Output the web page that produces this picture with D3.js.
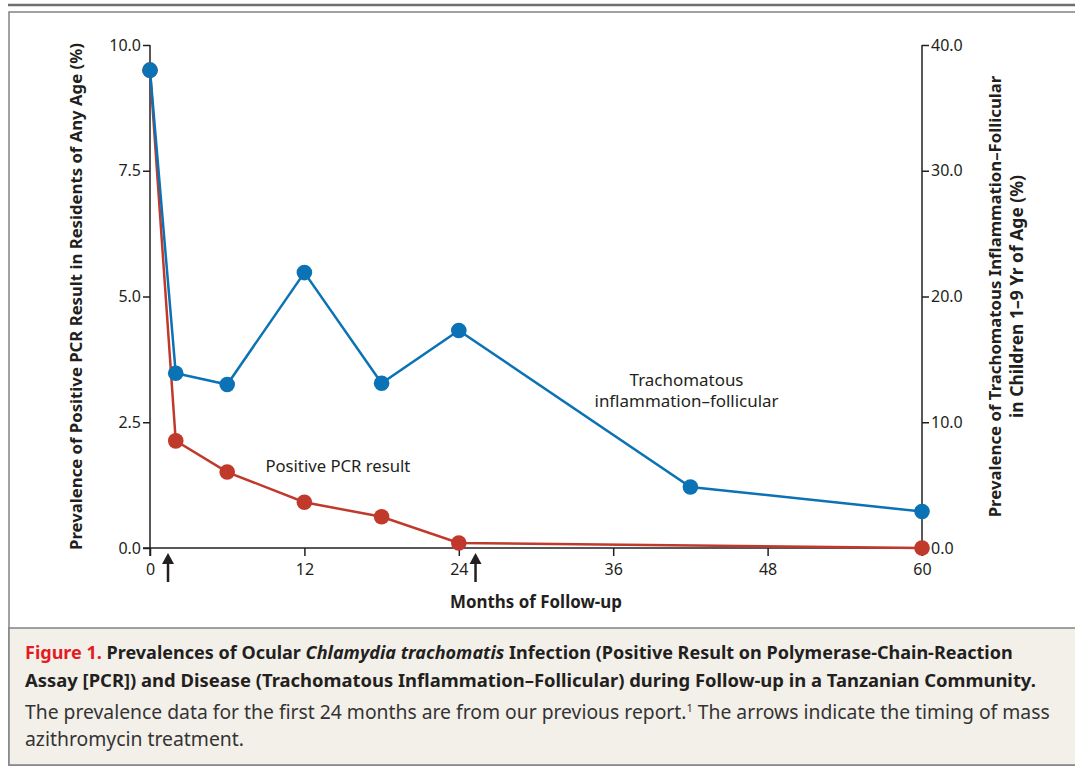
<!DOCTYPE html>
<html>
<head>
<meta charset="utf-8">
<script src="https://cdn.jsdelivr.net/npm/d3@7"></script>
<style>
  body { margin: 0; background: #fff; }
  svg text { font-family: "Noto Sans", "Open Sans", sans-serif; fill: #231f20; }
</style>
</head>
<body>
<div id="wrapper"></div>
<script>
// data
const pcrMonths = [0, 2, 6, 12, 18, 24, 60];
const pcrValues = [9.5, 2.13, 1.51, 0.91, 0.62, 0.1, 0.0];
const tfMonths = [0, 2, 6, 12, 18, 24, 42, 60];
const tfValues = [38.0, 13.9, 13.0, 21.9, 13.1, 17.3, 4.85, 2.9];
const treatmentMonths = [1.4, 25.3];
const xTicks = [0, 12, 24, 36, 48, 60];
const yLeftTicks = [0, 2.5, 5, 7.5, 10];
const yRightTicks = [0, 10, 20, 30, 40];

const red = '#c0392b';
const blue = '#0a72b5';

const dimensions = {
    width: 1075,
    height: 766,
    margin: { top: 45, right: 153, bottom: 218, left: 150 }
};
const boundedWidth = dimensions.width - dimensions.margin.left - dimensions.margin.right;
const boundedHeight = dimensions.height - dimensions.margin.top - dimensions.margin.bottom;

const wrapper = d3.select('#wrapper').append('svg')
    .attr('width', dimensions.width)
    .attr('height', dimensions.height);

// scale a text's font size so it spans the width it has in the figure
function fit(sel, target) {
    const w = sel.node().getComputedTextLength();
    const fs = parseFloat(sel.style('font-size'));
    sel.style('font-size', (fs * target / w).toFixed(2) + 'px');
    return sel;
}

// frame
wrapper.append('line')
    .attr('x1', 8).attr('x2', 1075).attr('y1', 5).attr('y2', 5)
    .attr('stroke', '#6d6e71').attr('stroke-width', 2.5);
wrapper.append('rect')
    .attr('x', 9).attr('y', 12).attr('width', 1080).attr('height', 753)
    .attr('fill', '#fff').attr('stroke', '#808285').attr('stroke-width', 1.5);
wrapper.append('rect')
    .attr('x', 9).attr('y', 628).attr('width', 1080).attr('height', 137)
    .attr('fill', '#f3f0ea').attr('stroke', '#808285').attr('stroke-width', 1.5);

const bounds = wrapper.append('g')
    .attr('transform', `translate(${dimensions.margin.left}, ${dimensions.margin.top})`);

const xScale = d3.scaleLinear().domain([0, 60]).range([0, boundedWidth]);
const yLeft = d3.scaleLinear().domain([0, 10]).range([boundedHeight, 0]);
const yRight = d3.scaleLinear().domain([0, 40]).range([boundedHeight, 0]);

const styleAxis = g => {
    g.select('.domain').attr('stroke', '#231f20').attr('stroke-width', 1.5);
    g.selectAll('.tick line').attr('stroke', '#231f20').attr('stroke-width', 1.5);
    g.selectAll('.tick text').style('font-size', '16px').attr('fill', '#231f20');
};

// x axis
bounds.append('g')
    .attr('transform', `translate(0, ${boundedHeight})`)
    .call(d3.axisBottom(xScale).tickValues(xTicks).tickSize(8).tickSizeOuter(0).tickPadding(8))
    .call(styleAxis)
    .call(g => g.select('.domain').attr('d', `M-7,0H${boundedWidth + 7}`));

bounds.append('g')
    .call(d3.axisLeft(yLeft).tickValues(yLeftTicks).tickFormat(d3.format('.1f')).tickSize(7).tickSizeOuter(0).tickPadding(2))
    .call(styleAxis)
    .call(g => g.select('.domain').attr('d', `M0,0V${boundedHeight + 8}`));

bounds.append('g')
    .attr('transform', `translate(${boundedWidth}, 0)`)
    .call(d3.axisRight(yRight).tickValues(yRightTicks).tickFormat(d3.format('.1f')).tickSize(7).tickSizeOuter(0).tickPadding(2))
    .call(styleAxis)
    .call(g => g.select('.domain').attr('d', `M0,0V${boundedHeight + 8}`));

// treatment arrows
const arrows = bounds.selectAll('.arrow').data(treatmentMonths).enter().append('g')
    .attr('transform', d => `translate(${xScale(d)}, ${boundedHeight + 5})`);
arrows.append('line')
    .attr('y1', 8).attr('y2', 29)
    .attr('stroke', '#231f20').attr('stroke-width', 2.5);
arrows.append('path')
    .attr('d', 'M0,0L6,11L-6,11Z')
    .attr('fill', '#231f20');

function drawSeries(months, values, yScale, color) {
    const pts = months.map((m, i) => ({ x: m, y: values[i] }));
    const line = d3.line().x(d => xScale(d.x)).y(d => yScale(d.y));
    bounds.append('path')
        .attr('d', line(pts))
        .attr('fill', 'none')
        .attr('stroke', color)
        .attr('stroke-width', 2.5);
    bounds.append('g').selectAll('circle').data(pts).enter().append('circle')
        .attr('cx', d => xScale(d.x))
        .attr('cy', d => yScale(d.y))
        .attr('r', 7.8)
        .attr('fill', color);
}

drawSeries(pcrMonths, pcrValues, yLeft, red);
drawSeries(tfMonths, tfValues, yRight, blue);

// series labels
fit(bounds.append('text')
    .attr('x', xScale(14.6)).attr('y', yLeft(1.52))
    .attr('text-anchor', 'middle')
    .style('font-size', '15px')
    .text('Positive PCR result'), 145);
const tfLabel = bounds.append('text')
    .attr('text-anchor', 'middle')
    .style('font-size', '15px');
tfLabel.append('tspan').attr('x', xScale(41.7)).attr('y', yRight(12.9)).text('Trachomatous');
tfLabel.append('tspan').attr('x', xScale(41.7)).attr('y', yRight(11.2)).text('inflammation\u2013follicular');
fit(tfLabel, 180 + 112 + 6); // both lines sit in one text node

// axis titles
fit(bounds.append('text')
    .attr('transform', `translate(${-68}, ${boundedHeight / 2}) rotate(-90)`)
    .attr('text-anchor', 'middle')
    .style('font-size', '15.5px').style('font-weight', 'bold')
    .text('Prevalence of Positive PCR Result in Residents of Any Age (%)'), 507);

const rTitle = bounds.append('g')
    .attr('transform', `translate(${boundedWidth}, ${boundedHeight / 2}) rotate(-90)`);
fit(rTitle.append('text').attr('x', 0).attr('y', 79)
    .attr('text-anchor', 'middle')
    .style('font-size', '15.5px').style('font-weight', 'bold')
    .text('Prevalence of Trachomatous Inflammation\u2013Follicular'), 442);
fit(rTitle.append('text').attr('x', 0).attr('y', 101)
    .attr('text-anchor', 'middle')
    .style('font-size', '15.5px').style('font-weight', 'bold')
    .text('in Children 1\u20139 Yr of Age (%)'), 243);

fit(bounds.append('text')
    .attr('x', boundedWidth / 2).attr('y', boundedHeight + 60)
    .attr('text-anchor', 'middle')
    .style('font-size', '15.5px').style('font-weight', 'bold')
    .text('Months of Follow-up'), 172);

// caption
const cap = wrapper.append('g').attr('transform', 'translate(25, 0)');
const l1 = cap.append('text').attr('y', 659).style('font-size', '17px').style('font-weight', 'bold');
l1.append('tspan').style('fill', '#e31b23').text('Figure 1. ');
l1.append('tspan').text('Prevalences of Ocular ');
l1.append('tspan').style('font-style', 'italic').text('Chlamydia trachomatis');
l1.append('tspan').text(' Infection (Positive Result on Polymerase-Chain-Reaction');
fit(l1, 988);
fit(cap.append('text').attr('y', 687).style('font-size', '17px').style('font-weight', 'bold')
    .text('Assay [PCR]) and Disease (Trachomatous Inflammation\u2013Follicular) during Follow-up in a Tanzanian Community.'), 1011);
const l3 = cap.append('text').attr('y', 719).style('font-size', '17px').style('fill', '#333');
l3.append('tspan').text('The prevalence data for the first 24 months are from our previous report.');
l3.append('tspan').attr('dy', -7).style('font-size', '11px').text('1');
l3.append('tspan').attr('dy', 7).text(' The arrows indicate the timing of mass');
fit(l3, 1026);
fit(cap.append('text').attr('y', 746).style('font-size', '17px').style('fill', '#333')
    .text('azithromycin treatment.'), 219);
</script>
</body>
</html>
